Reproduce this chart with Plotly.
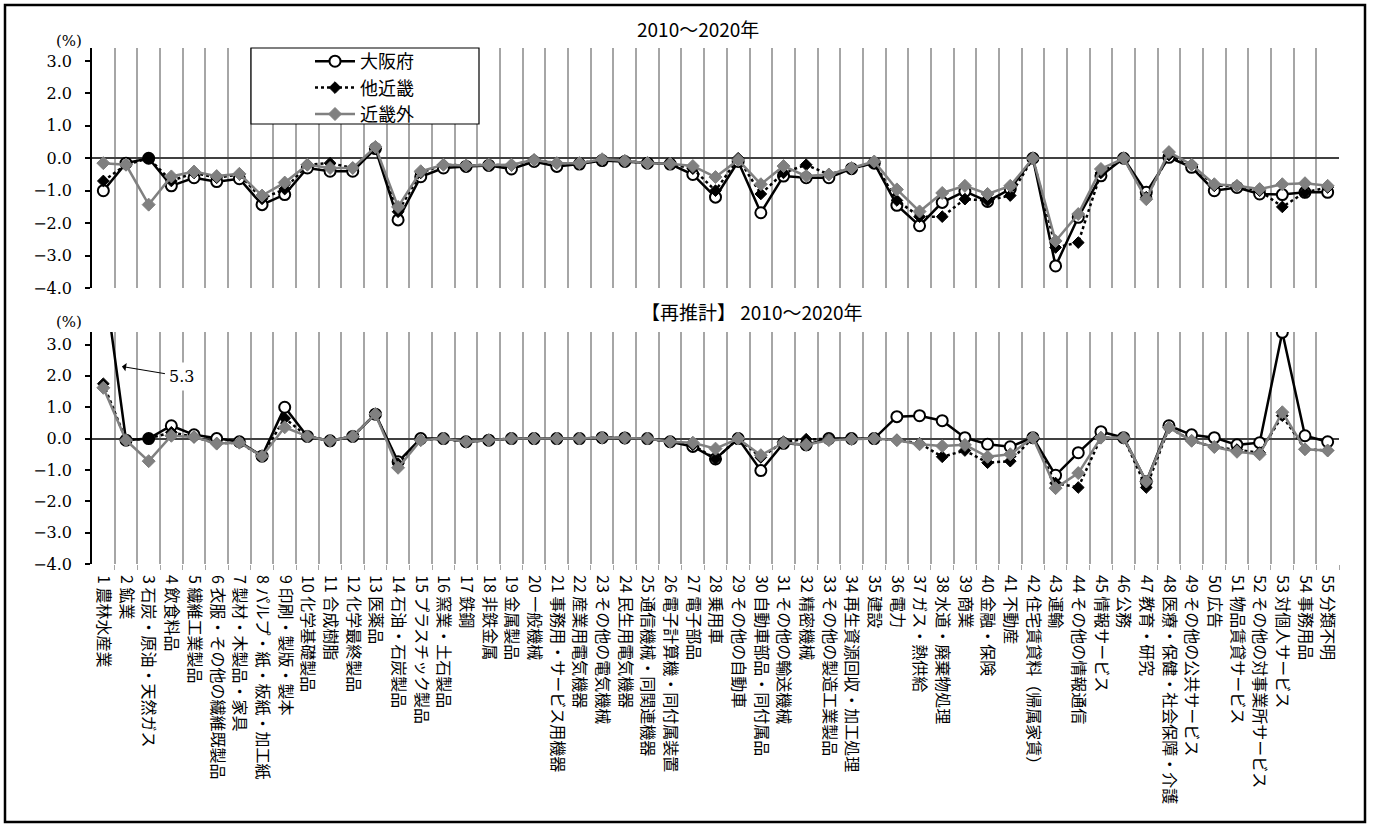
import plotly.graph_objects as go

W, H = 1373, 830

categories = [
    "1 農林水産業", "2 鉱業", "3 石炭・原油・天然ガス", "4 飲食料品", "5 繊維工業製品",
    "6 衣服・その他の繊維既製品", "7 製材・木製品・家具", "8 パルプ・紙・板紙・加工紙",
    "9 印刷・製版・製本", "10 化学基礎製品", "11 合成樹脂", "12 化学最終製品", "13 医薬品",
    "14 石油・石炭製品", "15 プラスチック製品", "16 窯業・土石製品", "17 鉄鋼", "18 非鉄金属",
    "19 金属製品", "20 一般機械", "21 事務用・サービス用機器", "22 産業用電気機器",
    "23 その他の電気機械", "24 民生用電気機器", "25 通信機械・同関連機器",
    "26 電子計算機・同付属装置", "27 電子部品", "28 乗用車", "29 その他の自動車",
    "30 自動車部品・同付属品", "31 その他の輸送機械", "32 精密機械", "33 その他の製造工業製品",
    "34 再生資源回収・加工処理", "35 建設", "36 電力", "37 ガス・熱供給", "38 水道・廃棄物処理",
    "39 商業", "40 金融・保険", "41 不動産", "42 住宅賃貸料（帰属家賃）", "43 運輸",
    "44 その他の情報通信", "45 情報サービス", "46 公務", "47 教育・研究",
    "48 医療・保健・社会保障・介護", "49 その他の公共サービス", "50 広告", "51 物品賃貸サービス",
    "52 その他の対事業所サービス", "53 対個人サービス", "54 事務用品", "55 分類不明",
]
x_pos = list(range(1, 56))

series_names = ["大阪府", "他近畿", "近畿外"]

# 2010～2020年
osaka_a = [-1.0, -0.15, 0.0, -0.85, -0.6, -0.72, -0.63, -1.43, -1.12, -0.3,
           -0.4, -0.4, 0.3, -1.9, -0.57, -0.3, -0.25, -0.22, -0.33, -0.1,
           -0.25, -0.18, -0.07, -0.1, -0.15, -0.18, -0.5, -1.2, -0.1, -1.68,
           -0.55, -0.6, -0.6, -0.32, -0.15, -1.45, -2.08, -1.36, -1.02, -1.33,
           -0.95, 0.0, -3.32, -1.82, -0.54, 0.0, -1.05, 0.03, -0.28, -1.0,
           -0.9, -1.1, -1.12, -1.05, -1.05]
tako_a = [-0.7, -0.2, 0.0, -0.7, -0.45, -0.6, -0.5, -1.25, -0.95, -0.2,
          -0.15, -0.3, 0.3, -1.65, -0.45, -0.2, -0.22, -0.2, -0.22, -0.05,
          -0.15, -0.15, -0.05, -0.08, -0.15, -0.17, -0.32, -1.0, 0.0, -1.1,
          -0.45, -0.2, -0.5, -0.3, -0.15, -1.3, -1.8, -1.8, -1.26, -1.3,
          -1.15, 0.0, -2.75, -2.6, -0.45, 0.0, -1.2, 0.1, -0.2, -0.85,
          -0.85, -1.0, -1.5, -1.05, -0.9]
gai_a = [-0.15, -0.2, -1.43, -0.56, -0.41, -0.55, -0.48, -1.15, -0.75, -0.2,
         -0.3, -0.3, 0.35, -1.5, -0.4, -0.2, -0.22, -0.2, -0.2, -0.05,
         -0.15, -0.15, -0.03, -0.08, -0.15, -0.17, -0.24, -0.58, -0.05, -0.8,
         -0.24, -0.55, -0.5, -0.3, -0.1, -0.96, -1.64, -1.07, -0.85, -1.1,
         -0.85, 0.0, -2.55, -1.72, -0.33, 0.0, -1.26, 0.19, -0.2, -0.8,
         -0.85, -0.95, -0.8, -0.77, -0.85]

# 【再推計】 2010～2020年
osaka_b = [5.3, -0.05, 0.0, 0.41, 0.12, 0.0, -0.1, -0.56, 1.0, 0.07,
           -0.07, 0.07, 0.78, -0.74, 0.0, 0.0, -0.1, -0.05, 0.0, 0.0,
           0.0, 0.0, 0.03, 0.02, 0.0, -0.1, -0.25, -0.65, 0.0, -1.02,
           -0.15, -0.2, 0.0, 0.0, 0.0, 0.7, 0.73, 0.57, 0.03, -0.18,
           -0.26, 0.03, -1.17, -0.45, 0.22, 0.03, -1.37, 0.41, 0.12, 0.03,
           -0.2, -0.13, 3.39, 0.09, -0.1]
tako_b = [1.75, -0.05, 0.0, 0.2, 0.05, -0.15, -0.13, -0.56, 0.65, 0.07,
          -0.07, 0.07, 0.78, -0.8, -0.05, 0.0, -0.1, -0.05, 0.0, 0.0,
          0.0, 0.0, 0.03, 0.02, 0.0, -0.1, -0.2, -0.65, 0.0, -0.6,
          -0.1, -0.02, -0.02, -0.02, 0.0, -0.05, -0.15, -0.58, -0.38, -0.77,
          -0.72, 0.03, -1.42, -1.56, 0.03, 0.03, -1.56, 0.35, -0.07, -0.27,
          -0.35, -0.45, 0.73, -0.34, -0.38]
gai_b = [1.62, -0.05, -0.72, 0.09, 0.05, -0.16, -0.13, -0.56, 0.36, 0.07,
         -0.07, 0.07, 0.78, -0.93, -0.05, 0.0, -0.1, -0.05, 0.0, 0.0,
         0.0, 0.0, 0.03, 0.02, 0.0, -0.1, -0.13, -0.32, 0.0, -0.53,
         -0.13, -0.2, -0.05, -0.02, 0.0, -0.05, -0.18, -0.24, -0.2, -0.58,
         -0.5, 0.03, -1.58, -1.1, 0.03, 0.03, -1.37, 0.35, -0.07, -0.27,
         -0.42, -0.5, 0.84, -0.34, -0.38]

y_ticks = [-4, -3, -2, -1, 0, 1, 2, 3]
titles = ["2010～2020年", "【再推計】 2010～2020年"]

GOTHIC = "Noto Sans CJK JP"
SERIF = "DejaVu Serif"

osaka_fill = ["black" if i == 3 else "white" for i in x_pos]

styles = [
    dict(line=dict(color="black", width=2.5),
         marker=dict(symbol="circle", size=11, color=osaka_fill, line=dict(color="black", width=2))),
    dict(line=dict(color="black", width=2.5, dash="dot"),
         marker=dict(symbol="diamond", size=9, color="black", line=dict(color="black", width=1))),
    dict(line=dict(color="#808080", width=2.5),
         marker=dict(symbol="diamond", size=10, color="#808080", line=dict(color="#808080", width=1))),
]

fig = go.Figure()
for panel, (data, xa, ya) in enumerate([
        ((osaka_a, tako_a, gai_a), "x", "y"),
        ((osaka_b, tako_b, gai_b), "x2", "y2")]):
    for name, vals, st in zip(series_names, data, styles):
        fig.add_trace(go.Scatter(
            x=x_pos, y=vals, name=name, mode="lines+markers",
            line=st["line"], marker=st["marker"], xaxis=xa, yaxis=ya,
            showlegend=(panel == 0), cliponaxis=True))

xdom = [92 / W, 1339 / W]
grid_vals = [i + 0.5 for i in range(1, 56)]

def xaxis_cfg(show_labels, anchor):
    cfg = dict(domain=xdom, range=[0.5, 55.5], tickmode="array", tickvals=x_pos,
               showgrid=False, zeroline=False, showline=False, ticks="",
               minor=dict(tickmode="array", tickvals=grid_vals, showgrid=True,
                          gridcolor="#a6a6a6", gridwidth=1.5,
                          ticks="outside" if show_labels else "", ticklen=5,
                          tickcolor="#a6a6a6"),
               showticklabels=show_labels, anchor=anchor)
    if show_labels:
        cfg.update(ticktext=categories, tickangle=90,
                   tickfont=dict(family=GOTHIC, size=16, color="black"),
                   ticklabelstandoff=10)
    return cfg

def yaxis_cfg(top_px, bot_px, anchor):
    return dict(domain=[1 - bot_px / H, 1 - top_px / H], range=[-4, 3.4],
                tickmode="array", tickvals=y_ticks, tickformat=".1f",
                showgrid=False, showline=True, linecolor="black", linewidth=1.5,
                ticks="outside", ticklen=5, tickcolor="black", tickwidth=1.5,
                zeroline=True, zerolinecolor="#404040", zerolinewidth=1.5,
                tickfont=dict(family=SERIF, size=16, color="black"),
                ticklabelstandoff=10, anchor=anchor)

fig.update_layout(
    width=W, height=H, margin=dict(l=0, r=0, t=0, b=0, autoexpand=False),
    paper_bgcolor="white", plot_bgcolor="white",
    xaxis=xaxis_cfg(False, "y"), yaxis=yaxis_cfg(48, 288, "x"),
    xaxis2=xaxis_cfg(True, "y2"), yaxis2=yaxis_cfg(332, 564, "x2"),
    showlegend=True,
    legend=dict(x=310 / W, y=1 - 43 / H, xanchor="left", yanchor="top",
                bgcolor="rgba(0,0,0,0)", borderwidth=0,
                font=dict(family=GOTHIC, size=18, color="black"),
                tracegroupgap=0, itemwidth=40),
    hovermode=False,
)

shapes = [
    dict(type="rect", xref="paper", yref="paper", x0=5 / W, x1=1365 / W,
         y0=1 - 822 / H, y1=1 - 5 / H, line=dict(color="black", width=2.5),
         fillcolor="rgba(0,0,0,0)", layer="above"),
    dict(type="rect", xref="paper", yref="paper", x0=251 / W, x1=479 / W,
         y0=1 - 124 / H, y1=1 - 48 / H, line=dict(color="black", width=1.2),
         fillcolor="white", layer="above"),
]
fig.update_layout(shapes=shapes)

annotations = [
    dict(text=titles[0], xref="paper", yref="paper", x=698 / W, y=1 - 28 / H,
         xanchor="center", yanchor="middle",
         showarrow=False, font=dict(family=GOTHIC, size=19, color="black")),
    dict(text=titles[1], xref="paper", yref="paper", x=752 / W, y=1 - 311 / H,
         xanchor="center", yanchor="middle",
         showarrow=False, font=dict(family=GOTHIC, size=19, color="black")),
    dict(text="(%)", xref="paper", yref="paper", x=69 / W, y=1 - 41 / H,
         xanchor="center", yanchor="middle",
         showarrow=False, font=dict(family=SERIF, size=15, color="black")),
    dict(text="(%)", xref="paper", yref="paper", x=69 / W, y=1 - 322 / H,
         xanchor="center", yanchor="middle",
         showarrow=False, font=dict(family=SERIF, size=15, color="black")),
    dict(text="5.3", xref="x2", yref="y2", x=1.82, y=2.3, ax=60, ay=10,
         showarrow=True, arrowhead=1, arrowsize=1.4, arrowwidth=1, arrowcolor="black",
         bgcolor="white", borderpad=4,
         font=dict(family=SERIF, size=16, color="black")),
]
fig.update_layout(annotations=annotations)

fig.write_html(
    "out.html",
    config={"displayModeBar": False},
    post_script="document.body.style.margin='0';document.body.style.overflow='hidden';",
)
